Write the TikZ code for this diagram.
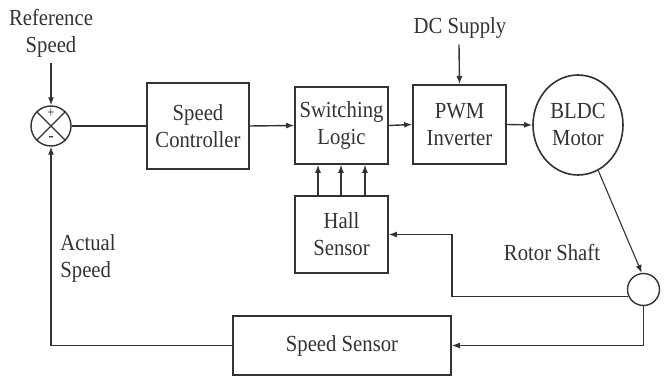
\documentclass[tikz,border=0pt]{standalone}
\usepackage{fontspec}
\setmainfont{Liberation Serif}[FakeStretch=0.9]
\usetikzlibrary{arrows.meta,shapes.geometric}
\definecolor{ink}{HTML}{333333}
\begin{document}
\begin{tikzpicture}[x=1pt,y=-1pt,
  every node/.style={text=ink,font=\fontsize{23}{27}\selectfont},
  blk/.style={draw=ink,line width=1.6pt,rectangle,align=center,inner sep=0pt},
  lbl/.style={align=center,inner sep=0pt},
  wire/.style={draw=ink,line width=1.4pt},
  arr/.style={wire,-{Latex[length=8pt,width=6pt]}}]
\useasboundingbox (0,0) rectangle (665,379);
% nodes
\node[draw=ink,line width=1.4pt,circle,minimum size=40pt,inner sep=0pt] (sum) at (51,126) {};
\draw[ink,line width=1.2pt] (sum.45) -- (sum.225) (sum.135) -- (sum.315);
\node[lbl,font=\fontsize{15}{15}\selectfont] (plus) at (51,113) {+};
\node[lbl,font=\fontsize{18}{18}\selectfont] (minus) at (51,139) {-};
\node[lbl] (ref) at (51,33) {Reference\\Speed};
\node[blk,minimum width=102pt,minimum height=86pt] (sc) at (198,126) {Speed\\Controller};
\node[blk,minimum width=93pt,minimum height=77pt] (sl) at (341.5,125.5) {Switching\\Logic};
\node[blk,minimum width=93pt,minimum height=79pt] (pwm) at (459.5,124.5) {PWM\\Inverter};
\node[draw=ink,line width=1.6pt,ellipse,minimum width=90pt,minimum height=100pt,inner sep=0pt,align=center] (bldc) at (578,125) {BLDC\\Motor};
\node[lbl] (dc) at (460,28) {DC Supply};
\node[blk,minimum width=93pt,minimum height=77pt] (hall) at (341.5,234.5) {Hall\\Sensor};
\node[draw=ink,line width=1.4pt,circle,minimum size=32pt,inner sep=0pt] (sm) at (643.5,289.5) {};
\node[blk,minimum width=218pt,minimum height=59pt] (ss) at (342,345.5) {Speed Sensor};
\node[lbl,align=left] (act) at (88,258) {Actual\\Speed};
\node[lbl] (rot) at (552,253) {Rotor Shaft};
\coordinate (hb) at (452,296);
% connectors
\draw[arr] (ref.south) ++(0,6) -- (sum.north);
\draw[wire] (sum.east) -- (sc.west);
\draw[arr] (sc.east) -- (sl.west);
\draw[arr] (sl.east) -- (pwm.west);
\draw[arr] (pwm.east) -- (bldc.west);
\draw[arr] (dc.south) ++(-1,6) -- (pwm.north);
\draw[arr] (hall.north -| 318,0) -- (sl.south -| 318,0);
\draw[arr] (hall.north -| 341,0) -- (sl.south -| 341,0);
\draw[arr] (hall.north -| 365,0) -- (sl.south -| 365,0);
\draw[arr,line width=1.1pt] (bldc.-66) -- (sm.96);
\draw[arr] (sm.204) -- (sm.204 -| hb) |- (hall.east);
\draw[arr] (sm.south) |- (ss.east);
\draw[arr] (ss.west) -| (sum.south);
\end{tikzpicture}
\end{document}
